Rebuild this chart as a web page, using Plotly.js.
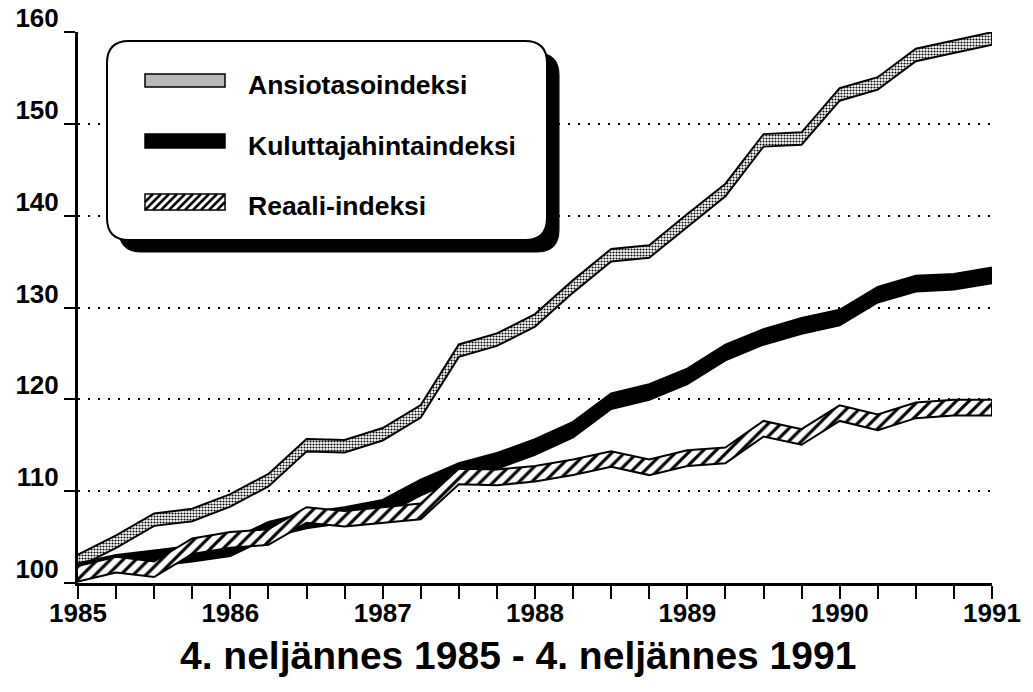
<!DOCTYPE html>
<html><head><meta charset="utf-8">
<script src="https://cdn.plot.ly/plotly-3.0.1.min.js"></script>
<style>html,body{margin:0;padding:0;background:#fff}#chart{width:1033px;height:692px}</style>
</head><body><div id="chart"></div>
<script>
// ---- data ----
const quarters = [1985, 1985.25, 1985.5, 1985.75, 1986, 1986.25, 1986.5, 1986.75, 1987, 1987.25, 1987.5, 1987.75,
  1988, 1988.25, 1988.5, 1988.75, 1989, 1989.25, 1989.5, 1989.75, 1990, 1990.25, 1990.5, 1990.75, 1991];
const tickLabels = ['1985','','','','1986','','','','1987','','','','1988','','','','1989','','','','1990','','','','1991'];
const seriesNames = ['Ansiotasoindeksi', 'Kuluttajahintaindeksi', 'Reaali-indeksi'];
const ansiotaso = [102.4, 104.5, 106.9, 107.4, 109.0, 111.2, 115.0, 114.9, 116.2, 118.7, 125.3, 126.5,
  128.6, 132.3, 135.7, 136.1, 139.5, 142.8, 148.2, 148.4, 153.2, 154.4, 157.5, 158.4, 159.3];
const kuluttaja = [101.3, 102.2, 102.7, 103.2, 103.8, 105.8, 106.8, 107.4, 108.2, 110.4, 112.2, 113.3,
  114.8, 116.7, 119.8, 120.8, 122.5, 125.1, 126.8, 128.0, 128.9, 131.4, 132.6, 132.8, 133.5];
const reaali = [101.0, 102.0, 101.5, 104.0, 104.7, 105.0, 107.4, 107.0, 107.4, 107.8, 111.6, 111.5,
  111.9, 112.6, 113.5, 112.6, 113.6, 113.9, 116.8, 115.9, 118.5, 117.5, 118.8, 119.1, 119.1];
const yTicks = [100, 110, 120, 130, 140, 150, 160];
const xTitle = '4. neljännes 1985 - 4. neljännes 1991';

// ---- geometry ----
const W = 1033, H = 692;
const M = {l: 78, r: 41, t: 32, b: 109};
const PW = W - M.l - M.r, PH = H - M.t - M.b;
const px = x => (x - M.l) / PW;
const py = y => (H - M.b - y) / PH;
const FONT = 'Liberation Sans, Arial, Helvetica, sans-serif';

function band(vals, half, style) {
  const xs = quarters.concat(quarters.slice().reverse());
  const ys = vals.map(v => v + half).concat(vals.slice().reverse().map(v => v - half));
  return Object.assign({
    type: 'scatter', mode: 'lines', x: xs, y: ys, fill: 'toself',
    line: {color: '#000', width: 2}, hoverinfo: 'skip', showlegend: false
  }, style);
}

const traces = [
  band(ansiotaso, 0.68, {name: seriesNames[0], fillcolor: '#ffffff',
    fillpattern: {shape: '.', size: 3, solidity: 0.4, fgcolor: '#000', bgcolor: '#fff'}}),
  band(kuluttaja, 0.85, {name: seriesNames[1], fillcolor: '#000'}),
  band(reaali, 0.85, {name: seriesNames[2], fillcolor: '#ffffff',
    fillpattern: {shape: '/', size: 9, solidity: 0.35, fgcolor: '#000', bgcolor: '#fff'}})
];

function rrect(x0, y0, x1, y1, r) {
  const P = (x, y) => px(x).toFixed(5) + ',' + py(y).toFixed(5);
  return 'M' + P(x0 + r, y0) + ' L' + P(x1 - r, y0) + ' Q' + P(x1, y0) + ' ' + P(x1, y0 + r) +
    ' L' + P(x1, y1 - r) + ' Q' + P(x1, y1) + ' ' + P(x1 - r, y1) +
    ' L' + P(x0 + r, y1) + ' Q' + P(x0, y1) + ' ' + P(x0, y1 - r) +
    ' L' + P(x0, y0 + r) + ' Q' + P(x0, y0) + ' ' + P(x0 + r, y0) + ' Z';
}
function hatch(x0, y0, x1, y1, step) {
  const h = y1 - y0; let d = '';
  for (let c = x0 - h; c < x1; c += step) {
    const s0 = Math.max(0, x0 - c), s1 = Math.min(h, x1 - c);
    if (s1 <= s0) continue;
    d += 'M' + px(c + s0).toFixed(5) + ',' + py(y1 - s0).toFixed(5) + ' L' + px(c + s1).toFixed(5) + ',' + py(y1 - s1).toFixed(5) + ' ';
  }
  return d;
}
const box = {x0: 107, y0: 41, x1: 547, y1: 240, r: 22, sh: 12};
const sw = {x0: 145, x1: 225};
const rows = [{y0: 74, y1: 87, ty: 85}, {y0: 134, y1: 148, ty: 146}, {y0: 194, y1: 210, ty: 206}];
const rectShape = (x0, y0, x1, y1, fill, lw) => ({type: 'rect', xref: 'paper', yref: 'paper',
  x0: px(x0), x1: px(x1), y0: py(y1), y1: py(y0), fillcolor: fill, line: {color: '#000', width: lw}, layer: 'above'});

const shapes = [
  {type: 'path', xref: 'paper', yref: 'paper', path: rrect(box.x0 + box.sh, box.y0 + box.sh, box.x1 + box.sh, box.y1 + box.sh, box.r),
    fillcolor: '#000', line: {color: '#000', width: 1}, layer: 'above'},
  {type: 'path', xref: 'paper', yref: 'paper', path: rrect(box.x0, box.y0, box.x1, box.y1, box.r),
    fillcolor: '#fff', line: {color: '#000', width: 2}, layer: 'above'},
  rectShape(sw.x0, rows[0].y0, sw.x1, rows[0].y1, '#b8b8b8', 1.5),
  rectShape(sw.x0, rows[1].y0, sw.x1, rows[1].y1, '#000', 1.5),
  rectShape(sw.x0, rows[2].y0, sw.x1, rows[2].y1, '#fff', 1.5),
  {type: 'path', xref: 'paper', yref: 'paper', path: hatch(sw.x0, rows[2].y0, sw.x1, rows[2].y1, 8),
    line: {color: '#000', width: 2.5}, layer: 'above'}
];

const annotations = seriesNames.map((n, i) => ({
  text: '<b>' + n + '</b>', xref: 'paper', yref: 'paper', x: px(246), y: py(rows[i].ty), xanchor: 'left', yanchor: 'middle',
  showarrow: false, font: {family: FONT, size: 26.5, color: '#000'}
}));
annotations.push({text: '<b>' + xTitle + '</b>', xref: 'paper', yref: 'paper', x: px(518), y: py(655), xanchor: 'center', yanchor: 'middle',
  showarrow: false, font: {family: FONT, size: 39, color: '#000'}});

const tickFont = {family: FONT, size: 26, color: '#000', weight: 'bold'};
const layout = {
  width: W, height: H, margin: M, paper_bgcolor: '#fff', plot_bgcolor: '#fff', showlegend: false,
  font: {family: FONT, color: '#000'},
  xaxis: {range: [1985, 1991], tickmode: 'array', tickvals: quarters, ticktext: tickLabels,
    ticks: 'outside', ticklen: 13, tickwidth: 2, tickcolor: '#000', showline: true, linewidth: 3, linecolor: '#000',
    showgrid: false, zeroline: false, ticklabelstandoff: -8, tickfont: tickFont, fixedrange: true},
  yaxis: {range: [100, 160], tickmode: 'array', tickvals: yTicks, ticks: 'outside', ticklen: 11, tickwidth: 2,
    tickcolor: '#000', showline: true, linewidth: 3, linecolor: '#000', showgrid: true, gridcolor: '#000',
    gridwidth: 2, griddash: '2px,8px', zeroline: false, ticklabelshift: -14, ticklabelstandoff: 0,
    tickfont: tickFont, fixedrange: true},
  shapes: shapes, annotations: annotations
};
Plotly.newPlot('chart', traces, layout, {staticPlot: true, displayModeBar: false});
</script></body></html>
